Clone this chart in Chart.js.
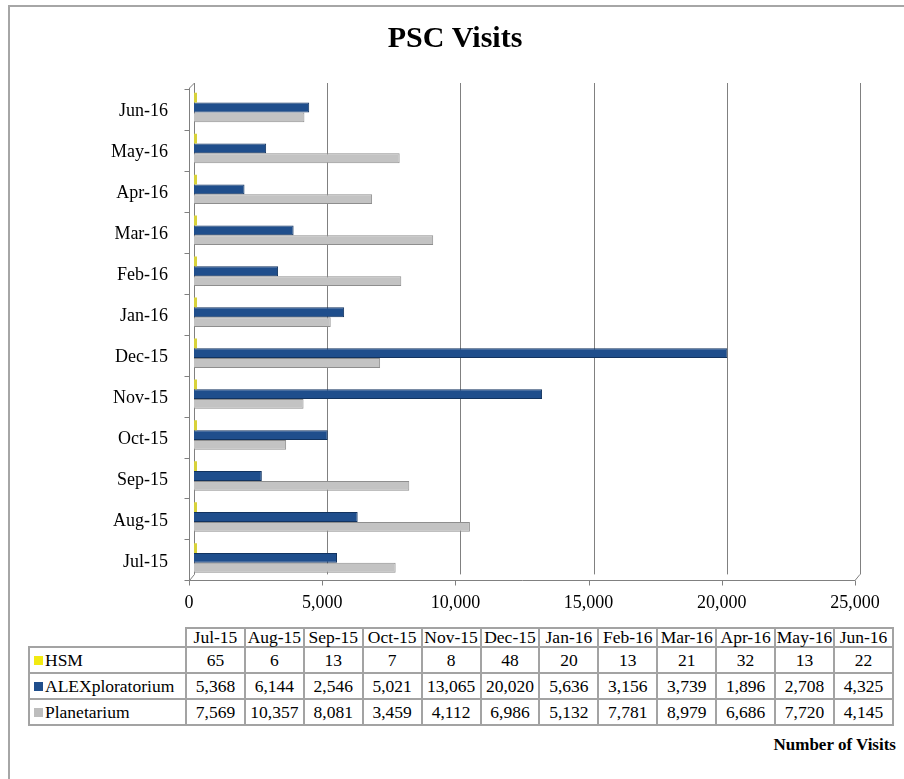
<!DOCTYPE html>
<html>
<head>
<meta charset="utf-8">
<title>PSC Visits</title>
<script src="https://cdn.jsdelivr.net/npm/chart.js@4.4.0/dist/chart.umd.min.js"></script>
<style>
body{margin:0;background:#fff;width:904px;height:779px;overflow:hidden;position:relative;font-family:"Liberation Serif","Times New Roman",serif;color:#000;}
#frame{position:absolute;left:8px;top:5px;width:1000px;height:1000px;border:2px solid #a6a6a6;}
#chartBox{position:absolute;left:0;top:0;width:904px;height:620px;}
#dataTable{position:absolute;left:28px;top:627px;width:866px;border-collapse:collapse;table-layout:fixed;font-size:17.5px;}
#dataTable td{border:2px solid #a3a3a3;text-align:center;padding:0;white-space:nowrap;line-height:20px;}
#dataTable tr.head td{height:17px;line-height:17px;}
#dataTable tr.row td{height:24px;}
#dataTable td.corner{border:none;}
#dataTable td.name{text-align:left;padding-left:4px;}
.key{display:inline-block;width:9px;height:9px;margin-right:2px;vertical-align:1px;}
#axisName{position:absolute;right:8px;top:735px;font-weight:bold;font-size:17px;}
</style>
</head>
<body>
<div id="frame"></div>
<div id="chartBox"><canvas id="myChart"></canvas></div>
<table id="dataTable"></table>
<div id="axisName">Number of Visits</div>
<script>
//Months, bottom of the chart first
const months = ['Jul-15','Aug-15','Sep-15','Oct-15','Nov-15','Dec-15','Jan-16','Feb-16','Mar-16','Apr-16','May-16','Jun-16'];
const hsm = [65,6,13,7,8,48,20,13,21,32,13,22];
const alex = [5368,6144,2546,5021,13065,20020,5636,3156,3739,1896,2708,4325];
const planet = [7569,10357,8081,3459,4112,6986,5132,7781,8979,6686,7720,4145];
const seriesNames = ['HSM','ALEXploratorium','Planetarium'];
const xTicks = [0,5000,10000,15000,20000,25000];

const fill = ['#D8D23A','#1F4E8C','#C3C3C3'];
const edge = ['#A39C1C','#12335F','#8E8E8E'];
const keyColour = ['#F2EA12','#1F4E8C','#BDBDBD'];
const serif = '"Liberation Serif","Times New Roman",serif';

//Data table under the chart
let table = document.getElementById('dataTable');
let head = table.insertRow();
head.className = 'head';
let corner = head.insertCell();
corner.className = 'corner';
corner.style.width = '156px';
months.forEach((m) => {
	head.insertCell().textContent = m;
});
[hsm, alex, planet].forEach((values, s) => {
	let r = table.insertRow();
	r.className = 'row';
	let c = r.insertCell();
	c.className = 'name';
	let k = document.createElement('span');
	k.className = 'key';
	k.style.background = keyColour[s];
	c.appendChild(k);
	c.appendChild(document.createTextNode(seriesNames[s]));
	values.forEach((v) => {
		r.insertCell().textContent = v.toLocaleString('en-US');
	});
});

//Draws the gridlines, walls, floor and tick marks with a little depth like the 3D original
const depth = 5;
const frame3d = {
	id: 'frame3d',
	beforeDatasetsDraw(chart) {
		const {ctx, chartArea: a, scales: {x, y}} = chart;
		ctx.save();
		ctx.strokeStyle = '#808080';
		ctx.lineWidth = 1;
		ctx.beginPath();
		//back wall gridlines
		xTicks.forEach((v) => {
			let px = Math.round(x.getPixelForValue(v)) + 0.5;
			ctx.moveTo(px, a.top - 4);
			ctx.lineTo(px, a.bottom - 4);
		});
		//front edge of the left wall and its top corner
		let fx = Math.round(a.left - depth) + 0.5;
		ctx.moveTo(fx, a.top + 1);
		ctx.lineTo(fx, a.bottom + 2);
		ctx.moveTo(fx, a.top + 1);
		ctx.lineTo(a.left + 0.5, a.top - 4);
		//floor front edge and right corner
		let fy = Math.round(a.bottom + 2) + 0.5;
		ctx.moveTo(fx, fy);
		ctx.lineTo(x.getPixelForValue(25000) - depth, fy);
		ctx.lineTo(x.getPixelForValue(25000), a.bottom - 4);
		ctx.moveTo(fx, fy);
		ctx.lineTo(a.left + 0.5, a.bottom - 4);
		//x tick marks
		xTicks.forEach((v) => {
			let px = Math.round(x.getPixelForValue(v) - depth) + 0.5;
			ctx.moveTo(px, fy);
			ctx.lineTo(px, fy + 5);
		});
		//y tick marks between the months
		let step = y.getPixelForValue(0) - y.getPixelForValue(1);
		for (let i = 0; i <= months.length; i++) {
			let py;
			if (i == 0) py = y.getPixelForValue(0) + step / 2;
			else if (i == months.length) py = y.getPixelForValue(i - 1) - step / 2;
			else py = (y.getPixelForValue(i - 1) + y.getPixelForValue(i)) / 2;
			py = Math.round(py + 2) + 0.5;
			ctx.moveTo(fx - 5, py);
			ctx.lineTo(fx, py);
		}
		ctx.stroke();
		ctx.restore();
	}
};

const config = {
	type: 'bar',
	data: {
		labels: months,
		datasets: [hsm, alex, planet].map((values, s) => ({
			label: seriesNames[s],
			data: values,
			backgroundColor: fill[s],
			borderColor: edge[s],
			borderWidth: s == 0 ? 0 : 1,
			//the tiny HSM values still show as a sliver, like the original
			minBarLength: s == 0 ? 3 : 0,
			categoryPercentage: 0.72,
			barPercentage: 1.0
		}))
	},
	options: {
		indexAxis: 'y',
		responsive: true,
		maintainAspectRatio: false,
		animation: false,
		layout: {padding: {left: 50, right: 44, top: 0, bottom: 0}},
		plugins: {
			legend: {display: false},
			tooltip: {enabled: false},
			title: {
				display: true,
				text: 'PSC Visits',
				color: '#000',
				font: {family: serif, size: 30, weight: 'bold'},
				padding: {top: 21, bottom: 30}
			}
		},
		scales: {
			x: {
				min: 0,
				max: 25000,
				ticks: {stepSize: 5000, color: '#000', font: {family: serif, size: 18}, labelOffset: -depth, padding: 6},
				grid: {display: false},
				border: {display: false}
			},
			y: {
				reverse: true,
				afterFit: (scale) => { scale.width = 144; },
				ticks: {color: '#000', font: {family: serif, size: 18}, padding: 18, labelOffset: 4},
				grid: {display: false},
				border: {display: false}
			}
		}
	},
	plugins: [frame3d]
};

const ctx = document.getElementById('myChart').getContext('2d');
let myChart = new Chart(ctx, config);
</script>
</body>
</html>
